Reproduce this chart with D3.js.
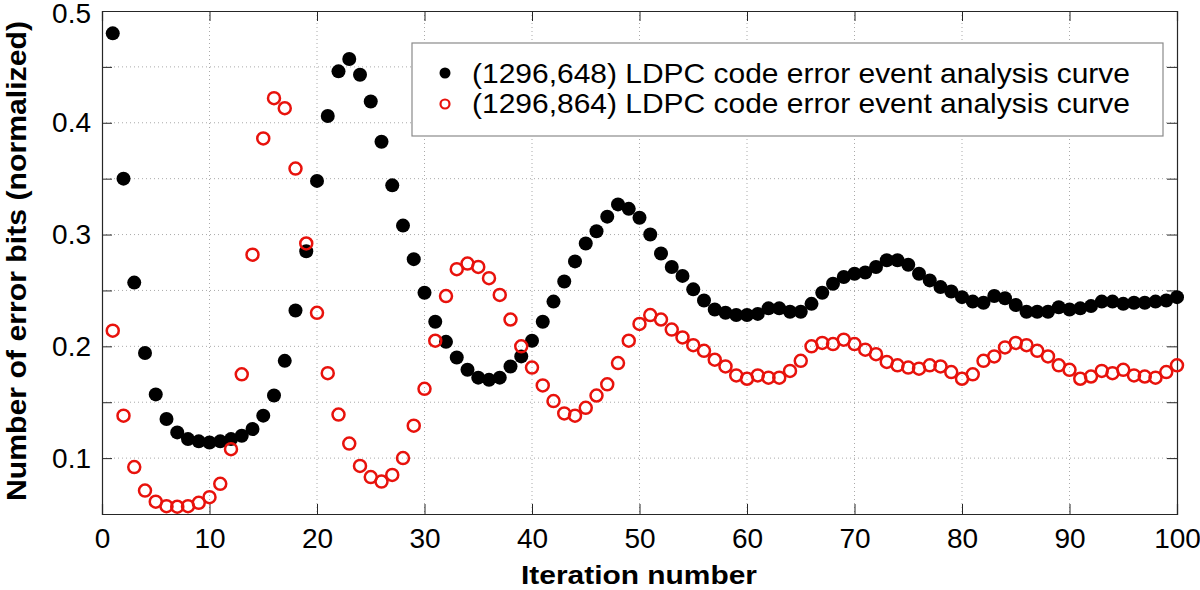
<!DOCTYPE html>
<html>
<head>
<meta charset="utf-8">
<script src="https://cdn.jsdelivr.net/npm/d3@7"></script>
<style>
  body { margin: 0; background: #fff; }
  svg { display: block; font-family: "Liberation Sans", Arial, sans-serif; }
</style>
</head>
<body>
<div id="chart"></div>
<script>
// iterations 1..100
const iterations = d3.range(1, 101);

// (1296,648) code — filled black markers
const code648 = [
  0.480, 0.350, 0.257, 0.194, 0.157, 0.135, 0.123, 0.117, 0.115, 0.114,
  0.115, 0.117, 0.120, 0.126, 0.138, 0.156, 0.187, 0.232, 0.285, 0.348,
  0.406, 0.446, 0.457, 0.443, 0.419, 0.383, 0.344, 0.308, 0.278, 0.248,
  0.222, 0.204, 0.190, 0.179, 0.172, 0.170, 0.172, 0.182, 0.191, 0.205,
  0.222, 0.240, 0.258, 0.276, 0.292, 0.303, 0.316, 0.327, 0.323, 0.315,
  0.300, 0.283, 0.271, 0.263, 0.251, 0.241, 0.233, 0.230, 0.228, 0.228,
  0.229, 0.234, 0.234, 0.231, 0.231, 0.238, 0.248, 0.256, 0.262, 0.265,
  0.266, 0.271, 0.277, 0.277, 0.273, 0.265, 0.259, 0.253, 0.249, 0.244,
  0.240, 0.239, 0.245, 0.243, 0.237, 0.231, 0.231, 0.231, 0.235, 0.233,
  0.234, 0.236, 0.240, 0.240, 0.238, 0.239, 0.239, 0.240, 0.241, 0.244
];

// (1296,864) code — open red markers
const code864 = [
  0.214, 0.138, 0.092, 0.071, 0.061, 0.057, 0.0565, 0.057, 0.060, 0.065,
  0.077, 0.108, 0.175, 0.282, 0.386, 0.422, 0.413, 0.359, 0.292, 0.230,
  0.176, 0.139, 0.113, 0.093, 0.083, 0.079, 0.085, 0.100, 0.129, 0.162,
  0.205, 0.245, 0.269, 0.274, 0.271, 0.261, 0.246, 0.224, 0.200, 0.181,
  0.165, 0.151, 0.140, 0.138, 0.145, 0.156, 0.166, 0.185, 0.205, 0.220,
  0.228, 0.224, 0.215, 0.208, 0.201, 0.196, 0.188, 0.182, 0.174, 0.171,
  0.174, 0.172, 0.172, 0.178, 0.187, 0.200, 0.203, 0.202, 0.206, 0.202,
  0.197, 0.193, 0.186, 0.183, 0.181, 0.180, 0.183, 0.182, 0.177, 0.171,
  0.175, 0.187, 0.191, 0.199, 0.203, 0.201, 0.196, 0.191, 0.183, 0.179,
  0.171, 0.173, 0.178, 0.176, 0.179, 0.174, 0.173, 0.172, 0.177, 0.183
];

const xTicks = [0, 10, 20, 30, 40, 50, 60, 70, 80, 90, 100];
const yTicks = [0.05, 0.1, 0.15, 0.2, 0.25, 0.3, 0.35, 0.4, 0.45, 0.5];
const yTickLabels = ["", "0.1", "", "0.2", "", "0.3", "", "0.4", "", "0.5"];
const legendLabels = [
  "(1296,648) LDPC code error event analysis curve",
  "(1296,864) LDPC code error event analysis curve"
];

const width = 1200, height = 590;
const margin = { top: 11, right: 23, bottom: 76, left: 102 };
const innerW = width - margin.left - margin.right;
const innerH = height - margin.top - margin.bottom;

const svg = d3.select("#chart").append("svg")
  .attr("width", width)
  .attr("height", height);

const g = svg.append("g")
  .attr("transform", `translate(${margin.left},${margin.top})`);

const x = d3.scaleLinear().domain([0, 100]).range([0, innerW]);
const y = d3.scaleLinear().domain([0.05, 0.5]).range([innerH, 0]);

// dotted grid
g.append("g").selectAll("line")
  .data(xTicks.slice(1, -1))
  .join("line")
  .attr("x1", d => x(d)).attr("x2", d => x(d))
  .attr("y1", 0).attr("y2", innerH)
  .attr("stroke", "#aaa").attr("stroke-dasharray", "1,3");
g.append("g").selectAll("line")
  .data(yTicks.slice(1, -1))
  .join("line")
  .attr("y1", d => y(d)).attr("y2", d => y(d))
  .attr("x1", 0).attr("x2", innerW)
  .attr("stroke", "#aaa").attr("stroke-dasharray", "1,3");

// axes with inward ticks on all four sides
const tickLen = 10;
const xAxis = g.append("g")
  .attr("transform", `translate(0,${innerH})`)
  .call(d3.axisBottom(x).tickValues(xTicks).tickSize(-tickLen).tickFormat(d3.format("d")));
const xAxisTop = g.append("g")
  .call(d3.axisTop(x).tickValues(xTicks).tickSize(-tickLen).tickFormat(""));
const yAxis = g.append("g")
  .call(d3.axisLeft(y).tickValues(yTicks).tickSize(-tickLen).tickPadding(11)
    .tickFormat((d, i) => yTickLabels[i]));
const yAxisRight = g.append("g")
  .attr("transform", `translate(${innerW},0)`)
  .call(d3.axisRight(y).tickValues(yTicks).tickSize(-tickLen).tickFormat(""));

[xAxis, xAxisTop, yAxis, yAxisRight].forEach(a => {
  a.select(".domain").attr("stroke", "#262626").attr("stroke-width", 1.2);
  a.selectAll(".tick line").attr("stroke", "#262626");
  a.selectAll(".tick text").attr("fill", "#000").style("font-size", "28px")
    .style("font-family", "'Liberation Sans', Arial, sans-serif");
});
xAxis.selectAll(".tick text").attr("y", 34).attr("dy", 0);
// keep the top label inside the page
yAxis.selectAll(".tick text").filter(d => d === 0.5).attr("dy", "0.42em");

// data points
g.append("g").selectAll("circle")
  .data(iterations)
  .join("circle")
  .attr("cx", d => x(d))
  .attr("cy", (d, i) => y(code648[i]))
  .attr("r", 7)
  .attr("fill", "#000");

g.append("g").selectAll("circle")
  .data(iterations)
  .join("circle")
  .attr("cx", d => x(d))
  .attr("cy", (d, i) => y(code864[i]))
  .attr("r", 6)
  .attr("fill", "none")
  .attr("stroke", "#e8120c")
  .attr("stroke-width", 2.5);

// legend
const legend = svg.append("g").attr("transform", "translate(412,43)");
legend.append("rect")
  .attr("width", 751).attr("height", 93)
  .attr("fill", "#fff").attr("stroke", "#8a8a8a").attr("stroke-width", 1.2);
legend.append("circle").attr("cx", 33).attr("cy", 30).attr("r", 5.5).attr("fill", "#000");
legend.append("circle").attr("cx", 33).attr("cy", 61).attr("r", 4.5)
  .attr("fill", "none").attr("stroke", "#e8120c").attr("stroke-width", 2.2);
legend.selectAll("text.lbl")
  .data(legendLabels)
  .join("text")
  .attr("class", "lbl")
  .attr("x", 60)
  .attr("y", (d, i) => 40 + i * 30)
  .attr("textLength", 658)
  .attr("lengthAdjust", "spacingAndGlyphs")
  .style("font-size", "28px")
  .text(d => d);

// axis titles
svg.append("text")
  .attr("x", 521)
  .attr("y", 584)
  .attr("textLength", 236)
  .attr("lengthAdjust", "spacingAndGlyphs")
  .style("font-size", "26px")
  .style("font-weight", "bold")
  .text("Iteration number");

svg.append("text")
  .attr("transform", "translate(26,501) rotate(-90)")
  .attr("textLength", 480)
  .attr("lengthAdjust", "spacingAndGlyphs")
  .style("font-size", "28px")
  .style("font-weight", "bold")
  .text("Number of error bits (normalized)");
</script>
</body>
</html>
